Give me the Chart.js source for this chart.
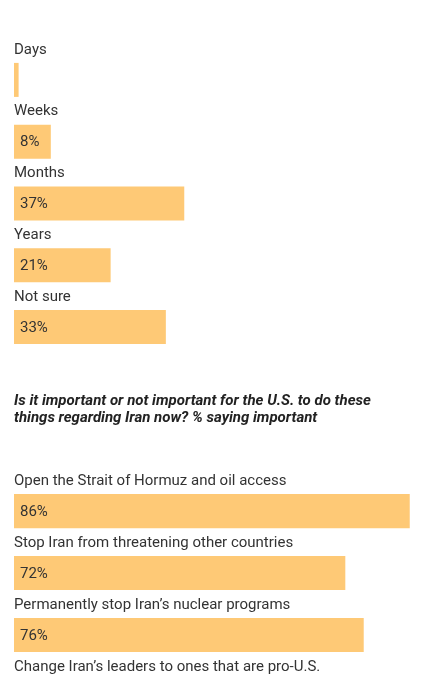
<!DOCTYPE html>
<html>
<head>
<meta charset="utf-8">
<script src="https://cdn.jsdelivr.net/npm/chart.js@4.4.1/dist/chart.umd.min.js"></script>
<style>
  html, body { margin: 0; padding: 0; background: #fff; overflow: hidden; width: 424px; height: 675px; }
  .box { position: absolute; left: 0; width: 424px; }
  #box1 { top: 0; height: 360px; }
  #box2 { top: 360px; height: 368px; }
</style>
</head>
<body>
<div class="box" id="box1"><canvas id="timeChart"></canvas></div>
<div class="box" id="box2"><canvas id="importantChart"></canvas></div>
<script>
'use strict';

// How long will the conflict last
const timeLabels = ['Days', 'Weeks', 'Months', 'Years', 'Not sure'];
const timeValues = [1, 8, 37, 21, 33];

// % saying important
const goalLabels = [
  'Open the Strait of Hormuz and oil access',
  'Stop Iran from threatening other countries',
  'Permanently stop Iran\u2019s nuclear programs',
  'Change Iran\u2019s leaders to ones that are pro-U.S.'
];
const goalValues = [86, 72, 76, 41];

const goalTitle = [
  'Is it important or not important for the U.S. to do these',
  'things regarding Iran now? % saying important'
];

const barColor = '#fec976';
const textColor = '#333333';
const fontFamily = 'Roboto, "Noto Sans", sans-serif';

/**
 * Draws the category label above each bar and the value inside it.
 */
const barLabels = {
  id: 'barLabels',
  afterDatasetsDraw(chart) {
    const ctx = chart.ctx;
    const meta = chart.getDatasetMeta(0);
    const labels = chart.data.labels;
    const values = chart.data.datasets[0].data;
    ctx.save();
    ctx.textAlign = 'left';
    ctx.textBaseline = 'middle';
    meta.data.forEach((bar, i) => {
      const top = bar.y - bar.height / 2;
      ctx.fillStyle = textColor;
      ctx.font = '15px ' + fontFamily;
      ctx.fillText(labels[i], chart.chartArea.left, top - 13);
      if (bar.x - bar.base > 25) {
        ctx.font = '15px ' + fontFamily;
        ctx.fillText(values[i] + '%', bar.base + 6, bar.y + 1);
      }
    });
    ctx.restore();
  }
};

function makeChart(id, labels, values, layoutPadding, title) {
  const ctx = document.getElementById(id).getContext('2d');
  return new Chart(ctx, {
    type: 'bar',
    data: {
      labels: labels,
      datasets: [{ data: values, backgroundColor: barColor, borderWidth: 0, categoryPercentage: 1, barPercentage: 0.55 }]
    },
    options: {
      indexAxis: 'y',
      responsive: true,
      maintainAspectRatio: false,
      animation: false,
      layout: { padding: layoutPadding },
      scales: {
        x: { display: false, min: 0, max: 89.1 },
        y: { display: false }
      },
      plugins: {
        legend: { display: false },
        tooltip: { enabled: false },
        title: title ? {
          display: true,
          text: title,
          align: 'start',
          color: '#222222',
          font: { family: fontFamily, size: 15, weight: 'bold', style: 'italic', lineHeight: 1.17 },
          padding: { top: 32, bottom: 53 }
        } : { display: false }
      }
    },
    plugins: [barLabels]
  });
}

makeChart('timeChart', timeLabels, timeValues, { left: 14, right: 0, top: 49, bottom: 2 }, null);
makeChart('importantChart', goalLabels, goalValues, { left: 14, right: 0, top: 0, bottom: 0 }, goalTitle);
</script>
</body>
</html>
